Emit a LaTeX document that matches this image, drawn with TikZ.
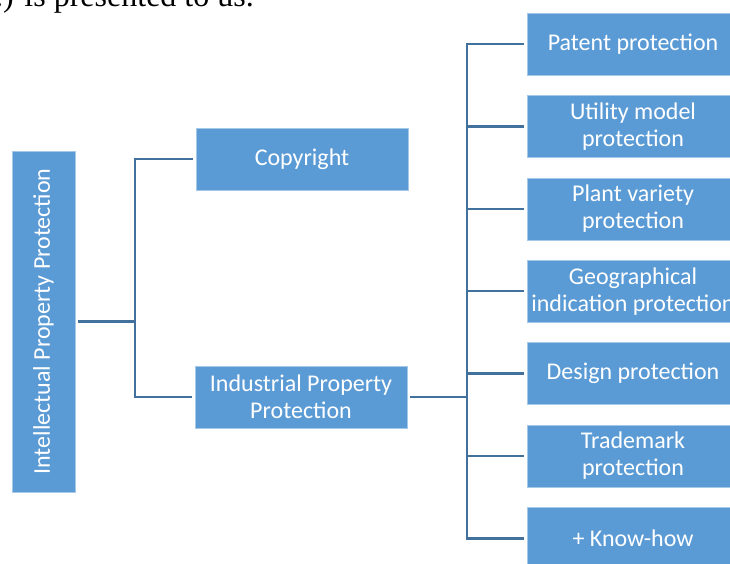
\documentclass[tikz,border=0pt]{standalone}
\usepackage{fontspec}
\setmainfont{Liberation Serif}
\newfontfamily\boxfont{Carlito}
\usepackage{tikz}
\usetikzlibrary{positioning, calc}
\definecolor{boxblue}{RGB}{91,155,213}
\definecolor{lineblue}{RGB}{65,113,156}

\begin{document}
\begin{tikzpicture}[
    x=1pt, y=-1pt,
    node distance=19.8pt,
    block/.style={rectangle, draw=boxblue!55!white, line width=0.6pt, fill=boxblue, text=white, align=center, inner sep=0pt, minimum width=212pt, minimum height=62pt, font=\boxfont\fontsize{24}{27}\selectfont},
    link/.style={draw=lineblue, line width=2.5pt},
    intro/.style={anchor=base east, inner sep=0pt, font=\fontsize{32}{36}\selectfont}
]
\useasboundingbox (0,0) rectangle (730,563);
\clip (0,0) rectangle (730,563);

% Running text above the chart
\node[intro] (lead) at (254,6) {.) is presented to us.};

% Root
\node[block, minimum width=63pt, minimum height=341pt] (ipp) at (43.5,321.5) {\rotatebox{90}{Intellectual Property Protection}};

% Second level
\node[block] (copyright) at (302,159) {Copyright};
\node[block] (industrial) at (301,397) {Industrial Property\\Protection};

% Third level
\node[block] (patent) at (633,44) {Patent protection};
\node[block, below=of patent] (utility) {Utility model\\protection};
\node[block, below=of utility] (plant) {Plant variety\\protection};
\node[block, below=of plant] (geo) {Geographical\\indication protection};
\node[block, below=of geo] (design) {Design protection};
\node[block, below=of design] (trademark) {Trademark\\protection};
\node[block, below=of trademark] (knowhow) {+ Know-how};

% Branch points
\coordinate (split1) at (135,321.5);
\coordinate (split2) at (467,397);

% Links - root to second level
\draw[link, shorten <=3pt, shorten >=3pt] (ipp.east) -- (split1) |- (copyright.west);
\draw[link, shorten >=3pt] (split1) |- (industrial.west);

% Links - industrial property to third level
\draw[link, shorten <=3pt] (industrial.east) -- (split2);
\draw[link, shorten >=3pt] (split2) |- (patent.west);
\draw[link, shorten >=3pt] (split2) |- (utility.west);
\draw[link, shorten >=3pt] (split2) |- (plant.west);
\draw[link, shorten >=3pt] (split2) |- (geo.west);
\draw[link, shorten >=3pt] (split2) |- (design.west);
\draw[link, shorten >=3pt] (split2) |- (trademark.west);
\draw[link, shorten >=3pt] (split2) |- (knowhow.west);

\end{tikzpicture}
\end{document}
